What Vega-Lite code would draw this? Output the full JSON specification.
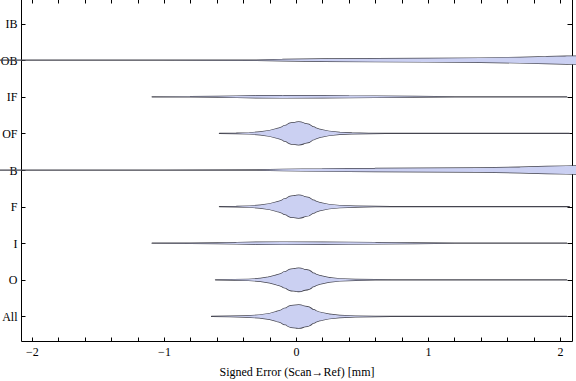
{
  "$schema": "https://vega.github.io/schema/vega-lite/v6.json",
  "width": 551,
  "height": 342,
  "autosize": {"type": "none"},
  "padding": {"left": 21, "top": -1, "right": 4, "bottom": 40},
  "background": "white",
  "config": {
    "view": {"stroke": null},
    "axis": {
      "grid": false,
      "domainColor": "#000000",
      "domainWidth": 1,
      "tickColor": "#000000",
      "tickWidth": 1,
      "labelFont": "Liberation Serif",
      "labelFontSize": 12,
      "labelColor": "#000000",
      "titleFont": "Liberation Serif",
      "titleFontSize": 12,
      "titleFontWeight": "normal",
      "titleColor": "#000000"
    }
  },
  "data": {
    "values": [
      {"cat": "OB", "x": -2.25, "d": 0.0},
      {"cat": "OB", "x": -1.0, "d": 0.0},
      {"cat": "OB", "x": -0.3, "d": 0.01},
      {"cat": "OB", "x": -0.1, "d": 0.06},
      {"cat": "OB", "x": 0.2, "d": 0.1},
      {"cat": "OB", "x": 0.6, "d": 0.13},
      {"cat": "OB", "x": 1.0, "d": 0.15},
      {"cat": "OB", "x": 1.4, "d": 0.18},
      {"cat": "OB", "x": 1.7, "d": 0.24},
      {"cat": "OB", "x": 1.9, "d": 0.3},
      {"cat": "OB", "x": 2.05, "d": 0.34},
      {"cat": "OB", "x": 2.13, "d": 0.35},
      {"cat": "B", "x": -2.25, "d": 0.0},
      {"cat": "B", "x": -1.0, "d": 0.0},
      {"cat": "B", "x": -0.3, "d": 0.01},
      {"cat": "B", "x": -0.1, "d": 0.06},
      {"cat": "B", "x": 0.2, "d": 0.1},
      {"cat": "B", "x": 0.6, "d": 0.13},
      {"cat": "B", "x": 1.0, "d": 0.15},
      {"cat": "B", "x": 1.4, "d": 0.18},
      {"cat": "B", "x": 1.7, "d": 0.24},
      {"cat": "B", "x": 1.9, "d": 0.3},
      {"cat": "B", "x": 2.05, "d": 0.34},
      {"cat": "B", "x": 2.13, "d": 0.35},
      {"cat": "IF", "x": -1.09, "d": 0.0},
      {"cat": "IF", "x": -0.8, "d": 0.01},
      {"cat": "IF", "x": -0.6, "d": 0.03},
      {"cat": "IF", "x": -0.45, "d": 0.06},
      {"cat": "IF", "x": -0.3, "d": 0.09},
      {"cat": "IF", "x": -0.1, "d": 0.1},
      {"cat": "IF", "x": 0.2, "d": 0.09},
      {"cat": "IF", "x": 0.4, "d": 0.08},
      {"cat": "IF", "x": 0.6, "d": 0.06},
      {"cat": "IF", "x": 0.9, "d": 0.03},
      {"cat": "IF", "x": 1.2, "d": 0.0},
      {"cat": "IF", "x": 2.05, "d": 0.0},
      {"cat": "I", "x": -1.09, "d": 0.0},
      {"cat": "I", "x": -0.8, "d": 0.01},
      {"cat": "I", "x": -0.6, "d": 0.03},
      {"cat": "I", "x": -0.45, "d": 0.06},
      {"cat": "I", "x": -0.3, "d": 0.09},
      {"cat": "I", "x": -0.1, "d": 0.1},
      {"cat": "I", "x": 0.2, "d": 0.09},
      {"cat": "I", "x": 0.4, "d": 0.08},
      {"cat": "I", "x": 0.6, "d": 0.06},
      {"cat": "I", "x": 0.9, "d": 0.03},
      {"cat": "I", "x": 1.2, "d": 0.0},
      {"cat": "I", "x": 2.05, "d": 0.0},
      {"cat": "OF", "x": -0.58, "d": 0.0},
      {"cat": "OF", "x": -0.45, "d": 0.02},
      {"cat": "OF", "x": -0.35, "d": 0.05},
      {"cat": "OF", "x": -0.27, "d": 0.12},
      {"cat": "OF", "x": -0.2, "d": 0.24},
      {"cat": "OF", "x": -0.13, "d": 0.45},
      {"cat": "OF", "x": -0.07, "d": 0.7},
      {"cat": "OF", "x": -0.02, "d": 0.93},
      {"cat": "OF", "x": 0.02, "d": 0.98},
      {"cat": "OF", "x": 0.07, "d": 0.84},
      {"cat": "OF", "x": 0.12, "d": 0.58},
      {"cat": "OF", "x": 0.18, "d": 0.34},
      {"cat": "OF", "x": 0.25, "d": 0.18},
      {"cat": "OF", "x": 0.33, "d": 0.08},
      {"cat": "OF", "x": 0.42, "d": 0.035},
      {"cat": "OF", "x": 0.55, "d": 0.01},
      {"cat": "OF", "x": 0.68, "d": 0.0},
      {"cat": "OF", "x": 2.07, "d": 0.0},
      {"cat": "F", "x": -0.58, "d": 0.0},
      {"cat": "F", "x": -0.45, "d": 0.02},
      {"cat": "F", "x": -0.35, "d": 0.05},
      {"cat": "F", "x": -0.27, "d": 0.12},
      {"cat": "F", "x": -0.2, "d": 0.24},
      {"cat": "F", "x": -0.13, "d": 0.45},
      {"cat": "F", "x": -0.07, "d": 0.7},
      {"cat": "F", "x": -0.02, "d": 0.93},
      {"cat": "F", "x": 0.02, "d": 0.98},
      {"cat": "F", "x": 0.07, "d": 0.84},
      {"cat": "F", "x": 0.12, "d": 0.58},
      {"cat": "F", "x": 0.18, "d": 0.34},
      {"cat": "F", "x": 0.25, "d": 0.18},
      {"cat": "F", "x": 0.33, "d": 0.09},
      {"cat": "F", "x": 0.45, "d": 0.035},
      {"cat": "F", "x": 0.6, "d": 0.01},
      {"cat": "F", "x": 0.72, "d": 0.0},
      {"cat": "F", "x": 2.07, "d": 0.0},
      {"cat": "O", "x": -0.61, "d": 0.0},
      {"cat": "O", "x": -0.47, "d": 0.02},
      {"cat": "O", "x": -0.36, "d": 0.05},
      {"cat": "O", "x": -0.27, "d": 0.12},
      {"cat": "O", "x": -0.2, "d": 0.25},
      {"cat": "O", "x": -0.13, "d": 0.47},
      {"cat": "O", "x": -0.07, "d": 0.73},
      {"cat": "O", "x": -0.02, "d": 0.95},
      {"cat": "O", "x": 0.02, "d": 1.0},
      {"cat": "O", "x": 0.07, "d": 0.87},
      {"cat": "O", "x": 0.12, "d": 0.6},
      {"cat": "O", "x": 0.18, "d": 0.36},
      {"cat": "O", "x": 0.25, "d": 0.19},
      {"cat": "O", "x": 0.33, "d": 0.09},
      {"cat": "O", "x": 0.45, "d": 0.035},
      {"cat": "O", "x": 0.6, "d": 0.01},
      {"cat": "O", "x": 0.72, "d": 0.0},
      {"cat": "O", "x": 2.05, "d": 0.0},
      {"cat": "All", "x": -0.64, "d": 0.0},
      {"cat": "All", "x": -0.5, "d": 0.02},
      {"cat": "All", "x": -0.38, "d": 0.05},
      {"cat": "All", "x": -0.28, "d": 0.12},
      {"cat": "All", "x": -0.2, "d": 0.25},
      {"cat": "All", "x": -0.13, "d": 0.47},
      {"cat": "All", "x": -0.07, "d": 0.73},
      {"cat": "All", "x": -0.02, "d": 0.95},
      {"cat": "All", "x": 0.02, "d": 1.0},
      {"cat": "All", "x": 0.07, "d": 0.87},
      {"cat": "All", "x": 0.12, "d": 0.6},
      {"cat": "All", "x": 0.18, "d": 0.36},
      {"cat": "All", "x": 0.25, "d": 0.19},
      {"cat": "All", "x": 0.33, "d": 0.09},
      {"cat": "All", "x": 0.45, "d": 0.035},
      {"cat": "All", "x": 0.6, "d": 0.01},
      {"cat": "All", "x": 0.72, "d": 0.0},
      {"cat": "All", "x": 2.05, "d": 0.0}
    ]
  },
  "layer": [
    {
      "mark": {"type": "trail", "color": "#45454f"},
      "encoding": {
        "x": {
          "field": "x", "type": "quantitative",
          "scale": {"domain": [-2.083, 2.09], "nice": false, "zero": false},
          "axis": {
            "orient": "bottom",
            "title": "Signed Error (Scan→Ref) [mm]",
            "values": [-2, -1.8, -1.6, -1.4, -1.2, -1, -0.8, -0.6, -0.4, -0.2, 0, 0.2, 0.4, 0.6, 0.8, 1, 1.2, 1.4, 1.6, 1.8, 2],
            "labelExpr": "abs(datum.value - round(datum.value)) < 0.001 ? (datum.value < 0 ? '−' + abs(round(datum.value)) : '' + round(datum.value)) : ''",
            "labelOverlap": false,
            "tickSize": -4,
            "labelPadding": 9,
            "titlePadding": 9,
            "labelFlush": false
          }
        },
        "y": {
          "field": "cat", "type": "nominal",
          "scale": {"domain": ["IB", "OB", "IF", "OF", "B", "F", "I", "O", "All"], "padding": 0.67},
          "axis": {"orient": "left", "title": null, "tickSize": -4, "labelPadding": 8}
        },
        "size": {"field": "d", "type": "quantitative", "scale": {"domain": [0, 1], "range": [1.25, 24.6]}, "legend": null},
        "detail": {"field": "cat"}
      }
    },
    {
      "mark": {"type": "trail", "color": "#cbd0f2"},
      "encoding": {
        "x": {
          "field": "x", "type": "quantitative",
          "axis": {
            "orient": "top",
            "title": null,
            "values": [-2, -1.8, -1.6, -1.4, -1.2, -1, -0.8, -0.6, -0.4, -0.2, 0, 0.2, 0.4, 0.6, 0.8, 1, 1.2, 1.4, 1.6, 1.8, 2],
            "labels": false,
            "tickSize": -4
          }
        },
        "y": {
          "field": "cat", "type": "nominal",
          "axis": {"orient": "right", "title": null, "labels": false, "tickSize": -5}
        },
        "size": {"field": "d", "type": "quantitative", "scale": {"domain": [0, 1], "range": [0.01, 23]}, "legend": null},
        "detail": {"field": "cat"}
      }
    }
  ],
  "resolve": {"axis": {"x": "independent", "y": "independent"}, "scale": {"size": "independent"}}
}
